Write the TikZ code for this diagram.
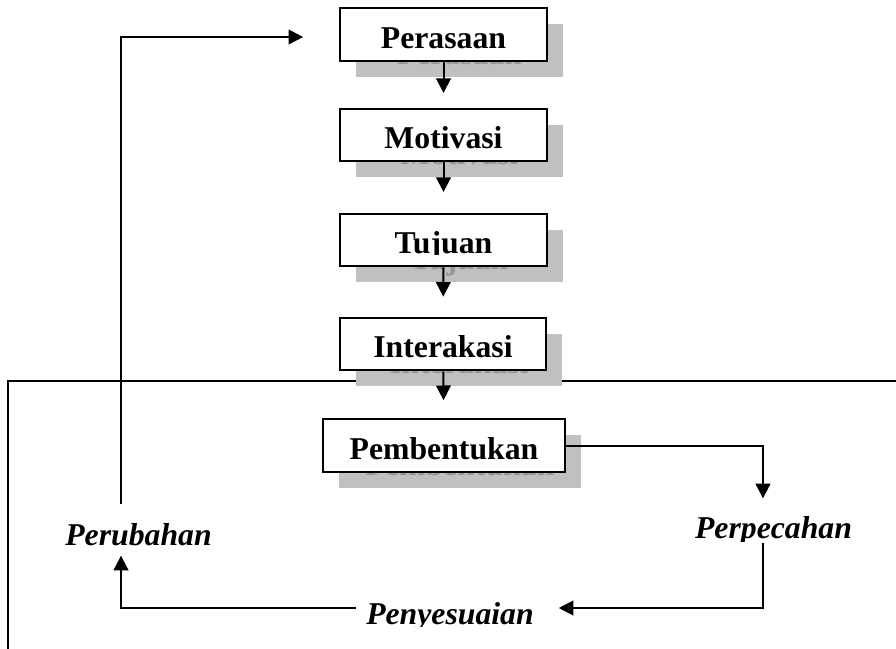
\documentclass[tikz,border=0pt]{standalone}
\usepackage{fontspec}
\setmainfont{Liberation Serif}
\usetikzlibrary{arrows.meta}

\definecolor{shadowfill}{RGB}{192,192,192}
\definecolor{shadowtext}{RGB}{150,150,150}

\tikzset{every picture/.style={line width=1.5pt}}
\tikzset{
  stage/.style={draw, fill=white, minimum width=155pt, minimum height=39.5pt, inner sep=0pt,
    text height=23pt, text depth=2.3pt, font=\fontsize{23.8}{28}\selectfont\bfseries},
  stageshadow/.style={stage, draw=none, fill=shadowfill, text=shadowtext},
  outcome/.style={inner sep=0pt, anchor=base, text height=16.5pt, text depth=5.25pt,
    font=\fontsize{23.8}{28}\selectfont\bfseries\itshape},
  flow/.style={-{Triangle[length=11pt,width=11pt]}}
}

\begin{document}
\begin{tikzpicture}[x=0.75pt,y=0.75pt,yscale=-1,xscale=1]
\useasboundingbox (0,0) rectangle (896,649);

%Straight Lines: frame
\coordinate (framebot) at (8,651);
\coordinate (framecorner) at (8,381);
\coordinate (frameright) at (898,381);
\draw (framebot) -- (framecorner) -- (frameright);

%Shape: Rectangle shadows
\node[stageshadow] (perasaan-s) at (459.5,50.5) {Perasaan};
\node[stageshadow] (motivasi-s) at (459.5,151) {Motivasi};
\node[stageshadow] (tujuan-s) at (459.5,256) {Tujuan};
\node[stageshadow] (interakasi-s) at (459,360) {Interakasi};
\node[stageshadow, minimum width=181.5pt] (pembentukan-s) at (460,461.5) {Pembentukan};

%Shape: Rectangle
\node[stage] (perasaan) at (443.5,34.5) {Perasaan};
\node[stage] (motivasi) at (443.5,135) {Motivasi};
\node[stage] (tujuan) at (443.5,240) {Tujuan};
\node[stage] (interakasi) at (443,344) {Interakasi};
\node[stage, minimum width=181.5pt] (pembentukan) at (444,445.5) {Pembentukan};

% Text Node
\node[outcome] (perpecahan) at (773.5,538) {Perpecahan};
% Text Node
\node[outcome] (penyesuaian) at (450,624) {Penyesuaian};
% Text Node
\node[outcome] (perubahan) at (138.5,545) {Perubahan};

%descenders cut off
\fill[white] ([shift={(-60,1)}]tujuan.base) rectangle ++(120,9);
\fill[white] ([shift={(-80,4)}]perpecahan.base) rectangle ++(160,6);
\fill[white] ([shift={(-85,3)}]penyesuaian.base) rectangle ++(170,6);

%Straight Lines [down the chain]
\draw[flow, shorten >=11pt] (perasaan) -- (motivasi);
\draw[flow, shorten >=15.5pt] (motivasi) -- (tujuan);
\draw[flow, shorten >=15pt] (tujuan) -- (interakasi);
\draw[flow, shorten >=13.5pt] (interakasi) -- (pembentukan);

%Straight Lines [the loop]
\draw[flow, shorten >=12.5pt] (pembentukan.east) -| ([shift={(-10.5,0)}]perpecahan.north);
\draw[flow, shorten >=18pt] ([shift={(-10.5,-3)}]perpecahan.south) |- ([shift={(0,-8.5)}]penyesuaian.east);
\draw[flow, shorten <=7pt, shorten >=2pt] ([shift={(0,-8.5)}]penyesuaian.west) -| ([shift={(-17.5,0)}]perubahan.south);
\draw[flow, shorten <=13.5pt, shorten >=27pt] ([shift={(-17.5,0)}]perubahan.north) |- ([shift={(0,2.5)}]perasaan.west);

\end{tikzpicture}
\end{document}
